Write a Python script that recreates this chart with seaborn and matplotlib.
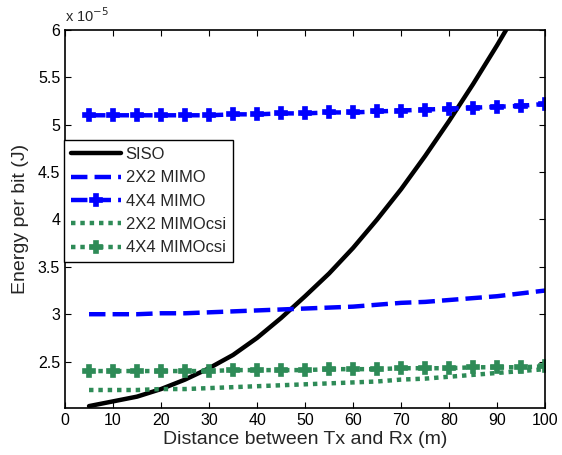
import matplotlib
matplotlib.use("Agg")
import matplotlib.pyplot as plt
import seaborn as sns

# distance (m) and energy per bit (x 1e-5 J)
distance = [5, 10, 15, 20, 25, 30, 35, 40, 45, 50,
            55, 60, 65, 70, 75, 80, 85, 90, 95, 100]
siso = [2.03, 2.08, 2.13, 2.21, 2.31, 2.43, 2.57, 2.75, 2.96, 3.19,
        3.43, 3.70, 4.00, 4.32, 4.67, 5.04, 5.43, 5.84, 6.27, 6.72]
mimo_2x2 = [3.00, 3.00, 3.00, 3.01, 3.01, 3.02, 3.03, 3.04, 3.05, 3.06,
            3.07, 3.08, 3.10, 3.12, 3.13, 3.15, 3.17, 3.19, 3.22, 3.25]
mimo_4x4 = [5.10, 5.10, 5.10, 5.10, 5.10, 5.10, 5.11, 5.11, 5.12, 5.12,
            5.13, 5.13, 5.14, 5.15, 5.16, 5.17, 5.18, 5.19, 5.20, 5.22]
csi_2x2 = [2.20, 2.20, 2.20, 2.21, 2.21, 2.22, 2.23, 2.24, 2.25, 2.26,
           2.27, 2.28, 2.29, 2.31, 2.32, 2.34, 2.36, 2.38, 2.40, 2.42]
csi_4x4 = [2.40, 2.40, 2.40, 2.40, 2.40, 2.40, 2.41, 2.41, 2.41, 2.41,
           2.42, 2.42, 2.42, 2.43, 2.43, 2.43, 2.44, 2.44, 2.44, 2.45]

x_ticks = [0, 10, 20, 30, 40, 50, 60, 70, 80, 90, 100]
y_ticks = [2.5, 3, 3.5, 4, 4.5, 5, 5.5, 6]
y_ticklabels = ["2.5", "3", "3.5", "4", "4.5", "5", "5.5", "6"]

sns.set_style("ticks")
plt.rcParams["font.family"] = ["Liberation Sans", "DejaVu Sans"]

fig = plt.figure(figsize=(5.62, 4.55), dpi=100)
ax = fig.add_axes([0.1157, 0.1033, 0.8543, 0.8307])

blue = "#0000FF"
green = "#2E8B57"
dotted = (0, (1, 1.1))

series = [
    ("SISO", siso, dict(color="black", linestyle="-", lw=3.2)),
    ("2X2 MIMO", mimo_2x2, dict(color=blue, linestyle="--", lw=3.2)),
    ("4X4 MIMO", mimo_4x4, dict(color=blue, linestyle="--", lw=3.2,
                               marker="P", markersize=8.5, mec=blue, mew=1.2)),
    ("2X2 MIMOcsi", csi_2x2, dict(color=green, linestyle=dotted, lw=3.2)),
    ("4X4 MIMOcsi", csi_4x4, dict(color=green, linestyle=dotted, lw=3.2,
                                  marker="P", markersize=8.5, mec=green, mew=1.2)),
]
for name, values, style in series:
    sns.lineplot(x=distance, y=values, ax=ax, label=name, **style)

ax.set_xlim(0, 100)
ax.set_ylim(2.01, 6)
ax.set_xticks(x_ticks)
ax.set_yticks(y_ticks)
ax.set_yticklabels(y_ticklabels)
ax.tick_params(direction="in", top=True, right=True, labelsize=11.5, length=4,
               width=0.8, colors="black")
for sp in ax.spines.values():
    sp.set_linewidth(1.2)
    sp.set_color("black")

ax.set_xlabel("Distance between Tx and Rx (m)", fontsize=14, labelpad=2)
ax.set_ylabel("Energy per bit (J)", fontsize=14, labelpad=6)
ax.text(0.0, 1.012, r"x 10$^{-5}$", transform=ax.transAxes, fontsize=10.5,
        ha="left", va="bottom")

leg = ax.legend(loc="upper left", bbox_to_anchor=(-0.002, 0.708),
                fontsize=12, frameon=True, fancybox=False, handlelength=3.0,
                borderpad=0.4, labelspacing=0.5, handletextpad=0.3,
                borderaxespad=0)
leg.get_frame().set_edgecolor("black")
leg.get_frame().set_linewidth(1.0)
leg.get_frame().set_alpha(1)

fig.savefig("out.png", dpi=100)
